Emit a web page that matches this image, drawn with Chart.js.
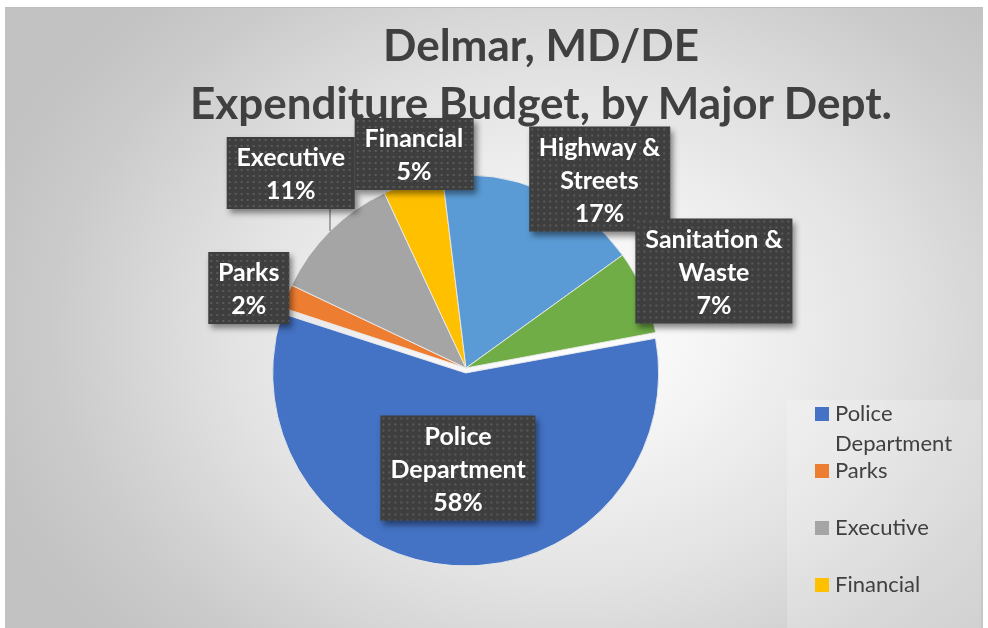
<!DOCTYPE html>
<html><head><meta charset="utf-8">
<script src="https://cdn.jsdelivr.net/npm/chart.js@4.4.1/dist/chart.umd.min.js"></script>
<style>
html,body{margin:0;padding:0;background:#fff;width:988px;height:628px;overflow:hidden;font-family:Lato, "Open Sans", sans-serif;}
#bg{position:absolute;left:5px;top:7px;width:978px;height:621px;border-top:1px solid #bdbdbd;box-sizing:border-box;
 background:radial-gradient(ellipse 62% 75% at 57% 52%, #ffffff 0%, #f6f6f6 22%, #e2e2e2 55%, #cacaca 85%, #c2c2c2 100%);}
#c{position:absolute;left:0;top:0;}
#title{position:absolute;left:141px;width:800px;top:15px;text-align:center;font-weight:bold;font-size:44px;line-height:58px;color:#404040;white-space:nowrap;}
#legend{position:absolute;left:787px;top:400px;width:194px;height:228px;overflow:hidden;background:rgba(255,255,255,0.22);}
.li{position:absolute;left:0;width:194px;height:57px;}
.sw{position:absolute;left:28px;top:9px;width:14px;height:14px;}
.lt{position:absolute;left:48px;top:0;width:140px;font-size:22px;line-height:30px;color:#404040;}
.lbl{position:absolute;transform:translate(-50%,-50%);background-color:#3e3e3e;
 background-image:radial-gradient(circle, #5a5a5a 0.9px, rgba(0,0,0,0) 1.3px);background-size:6px 6px;
 box-shadow:3px 4px 6px rgba(0,0,0,0.45);color:#fff;font-weight:bold;font-size:25px;line-height:33px;text-align:center;
 padding:3px 10px;white-space:nowrap;}
.lbl span{display:block;}
</style></head>
<body>
<div id="bg"></div>
<canvas id="c" width="988" height="628"></canvas>
<div id="title"></div>
<div id="legend"></div>
<script>
// ---- data ----
const titleLines = ["Delmar, MD/DE", "Expenditure Budget, by Major Dept."];
const categories = ["Police Department", "Parks", "Executive", "Financial", "Highway & Streets", "Sanitation & Waste"];
const values = [58, 2, 11, 5, 17, 7];
const colors = ["#4472C4", "#ED7D31", "#A5A5A5", "#FFC000", "#5B9BD5", "#70AD47"];

// title
const t = document.getElementById('title');
titleLines.forEach(s => { const d = document.createElement('div'); d.textContent = s; t.appendChild(d); });

// legend
const lg = document.getElementById('legend');
categories.forEach((c, i) => {
  const it = document.createElement('div'); it.className = 'li'; it.style.top = (-2 + 57 * i) + 'px';
  const sw = document.createElement('div'); sw.className = 'sw'; sw.style.background = colors[i];
  const tx = document.createElement('div'); tx.className = 'lt'; tx.textContent = c;
  it.appendChild(sw); it.appendChild(tx); lg.appendChild(it);
});

const mctx = document.createElement('canvas').getContext('2d');
function wrap(text, font, maxW) {
  mctx.font = font;
  const words = text.split(' '); const lines = []; let cur = '';
  words.forEach(w => {
    const test = cur ? cur + ' ' + w : w;
    if (cur && mctx.measureText(test).width > maxW) { lines.push(cur); cur = w; } else cur = test;
  });
  if (cur) lines.push(cur);
  return lines;
}

// keep exploded slice at the same radius as the others (Chart.js grows it by offset/4)
const explodeFix = {
  id: 'explodeFix',
  afterDatasetUpdate(chart, args) {
    args.meta.data.forEach(arc => {
      const off = (arc.options && arc.options.offset) || 0;
      if (off) arc.outerRadius = args.meta.controller.outerRadius - off / 4;
    });
  }
};

const labelPlugin = {
  id: 'sliceLabels',
  afterDraw(chart, args, opts) {
    const meta = chart.getDatasetMeta(0);
    const R = meta.controller.outerRadius;
    const data = chart.data.datasets[0].data;
    const total = data.reduce((a, b) => a + b, 0);
    const ctx = chart.ctx;
    meta.data.forEach((arc, i) => {
      const p = arc.getProps(['x', 'y', 'startAngle', 'endAngle'], true);
      const mid = (p.startAngle + p.endAngle) / 2;
      const pl = opts.placement[i];
      const a = mid + pl.da * Math.PI / 180;
      const cx = p.x + Math.cos(a) * R * pl.r;
      const cy = p.y + Math.sin(a) * R * pl.r;
      let el = document.getElementById('lbl' + i);
      if (!el) {
        el = document.createElement('div'); el.id = 'lbl' + i; el.className = 'lbl';
        const lines = wrap(chart.data.labels[i], 'bold 25px Lato', opts.maxWidth);
        lines.push(Math.round(data[i] / total * 100) + '%');
        lines.forEach(s => { const sp = document.createElement('span'); sp.textContent = s; el.appendChild(sp); });
        document.body.appendChild(el);
      }
      el.style.left = cx + 'px'; el.style.top = cy + 'px';
      if (pl.leader) {
        const ex = p.x + Math.cos(mid) * R, ey = p.y + Math.sin(mid) * R;
        const bottom = cy + el.offsetHeight / 2;
        ctx.save(); ctx.strokeStyle = '#8a8a8a'; ctx.lineWidth = 1.5;
        ctx.beginPath(); ctx.moveTo(ex, ey); ctx.lineTo(ex, bottom); ctx.stroke(); ctx.restore();
      }
    });
  }
};

new Chart(document.getElementById('c'), {
  type: 'pie',
  data: {
    labels: categories,
    datasets: [{
      data: values,
      backgroundColor: colors,
      borderColor: 'rgba(235,235,235,0.9)',
      borderWidth: 1,
      offset: ctx => ctx.dataIndex === 0 ? 20 : 0
    }]
  },
  options: {
    responsive: false,
    animation: false,
    rotation: 79.4,
    radius: 193,
    layout: { padding: { left: 273, right: 329, top: 175, bottom: 67 } },
    plugins: {
      legend: { display: false },
      tooltip: { enabled: false },
      title: { display: false },
      sliceLabels: {
        maxWidth: 150,
        placement: [
          { r: 0.52, da: 0.7 },
          { r: 1.2, da: -1.6 },
          { r: 1.36, da: 2.9, leader: true },
          { r: 1.14, da: 2.3 },
          { r: 1.2, da: 11.6 },
          { r: 1.38, da: 1.8 }
        ]
      }
    }
  },
  plugins: [explodeFix, labelPlugin]
});
</script>
</body></html>
